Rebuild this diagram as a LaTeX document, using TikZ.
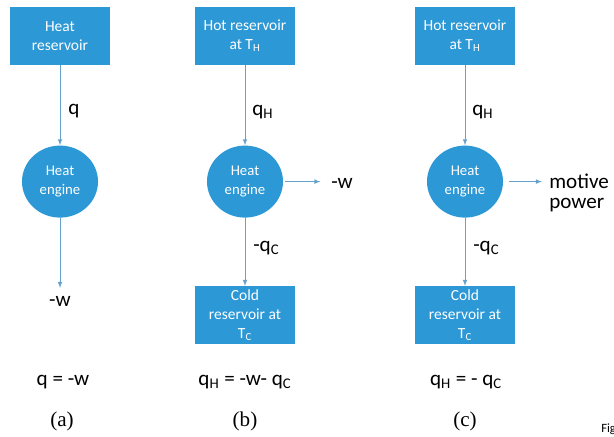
\documentclass[tikz,border=0pt]{standalone}
\usepackage{fontspec}
\setmainfont{Carlito}
\newfontfamily\captfont{Liberation Serif}
\usetikzlibrary{positioning, arrows.meta, shapes.geometric}
\definecolor{boxblue}{RGB}{44,152,214}
\definecolor{flowblue}{RGB}{100,162,204}

\begin{document}
\begin{tikzpicture}[
    x=0.025cm, y=-0.025cm,
    node distance=1.0cm,
    resbox/.style={
        rectangle,
        fill=boxblue,
        text=white,
        minimum width=2.5cm,
        minimum height=1.45cm,
        inner sep=1pt,
        align=center,
        font=\fontsize{11}{13.5}\selectfont
    },
    engine/.style={
        ellipse,
        fill=boxblue,
        text=white,
        minimum width=1.9cm,
        minimum height=1.8cm,
        inner sep=1pt,
        align=center,
        font=\fontsize{10.5}{14}\selectfont
    },
    lbl/.style={inner sep=0pt, font=\fontsize{15}{14}\selectfont},
    capt/.style={inner sep=0pt, font=\captfont\fontsize{15}{16}\selectfont},
    flow/.style={->, >=latex, flowblue, line width=0.5pt}
]
    \useasboundingbox (0,0) rectangle (614,436);

    % Reservoirs (top)
    \node[resbox] (heatres) at (60,36) {Heat\\reservoir};
    \node[resbox] (hotB) at (245,36) {Hot reservoir\\at T\textsubscript{H}};
    \node[resbox] (hotC) at (465,36) {Hot reservoir\\at T\textsubscript{H}};

    % Engines
    \node[engine, below=2.0cm of heatres] (engA) {Heat\\engine};
    \node[engine, below=2.0cm of hotB] (engB) {Heat\\engine};
    \node[engine, below=2.0cm of hotC] (engC) {Heat\\engine};

    % Cold reservoirs
    \node[resbox, below=1.7cm of engB] (coldB) {Cold\\reservoir at\\T\textsubscript{C}};
    \node[resbox, below=1.7cm of engC] (coldC) {Cold\\reservoir at\\T\textsubscript{C}};

    % Outputs
    \node[lbl] (wA) at (60,301) {-w};
    \node[lbl, anchor=west] (wB) at (331,183) {-w};
    \node[lbl, anchor=west, align=left] (power) at (549,193) {motive\\power};

    % Flow labels
    \node[lbl, anchor=west] (qA) at (68,111) {q};
    \node[lbl, anchor=west] (qhB) at (252,112) {q\textsubscript{H}};
    \node[lbl, anchor=west] (qhC) at (472,112) {q\textsubscript{H}};
    \node[lbl, anchor=west] (qcB) at (253,248) {-q\textsubscript{C}};
    \node[lbl, anchor=west] (qcC) at (473,248) {-q\textsubscript{C}};

    % Balances
    \node[lbl] (eqA) at (63,382) {q = -w};
    \node[lbl] (eqB) at (245,382) {q\textsubscript{H} = -w- q\textsubscript{C}};
    \node[lbl] (eqC) at (466,382) {q\textsubscript{H} = - q\textsubscript{C}};

    % Captions
    \node[capt] (capA) at (62,421) {(a)};
    \node[capt] (capB) at (245,421) {(b)};
    \node[capt] (capC) at (465,421) {(c)};
    \node[anchor=west, inner sep=0pt, font=\fontsize{9}{10}\selectfont] (fig) at (601,429) {Fig};

    % Arrows
    \draw[flow] (heatres) -- (engA);
    \draw[flow, shorten >=5.5pt] (engA) -- (wA);
    \draw[flow] (hotB) -- (engB);
    \draw[flow] (engB) -- (coldB);
    \draw[flow, shorten <=1.5pt, shorten >=7.5pt] (engB.east) -- (engB.east -| wB.west);
    \draw[flow] (hotC) -- (engC);
    \draw[flow] (engC) -- (coldC);
    \draw[flow, shorten <=4pt, shorten >=5pt] (engC.east) -- (engC.east -| power.west);
\end{tikzpicture}
\end{document}
